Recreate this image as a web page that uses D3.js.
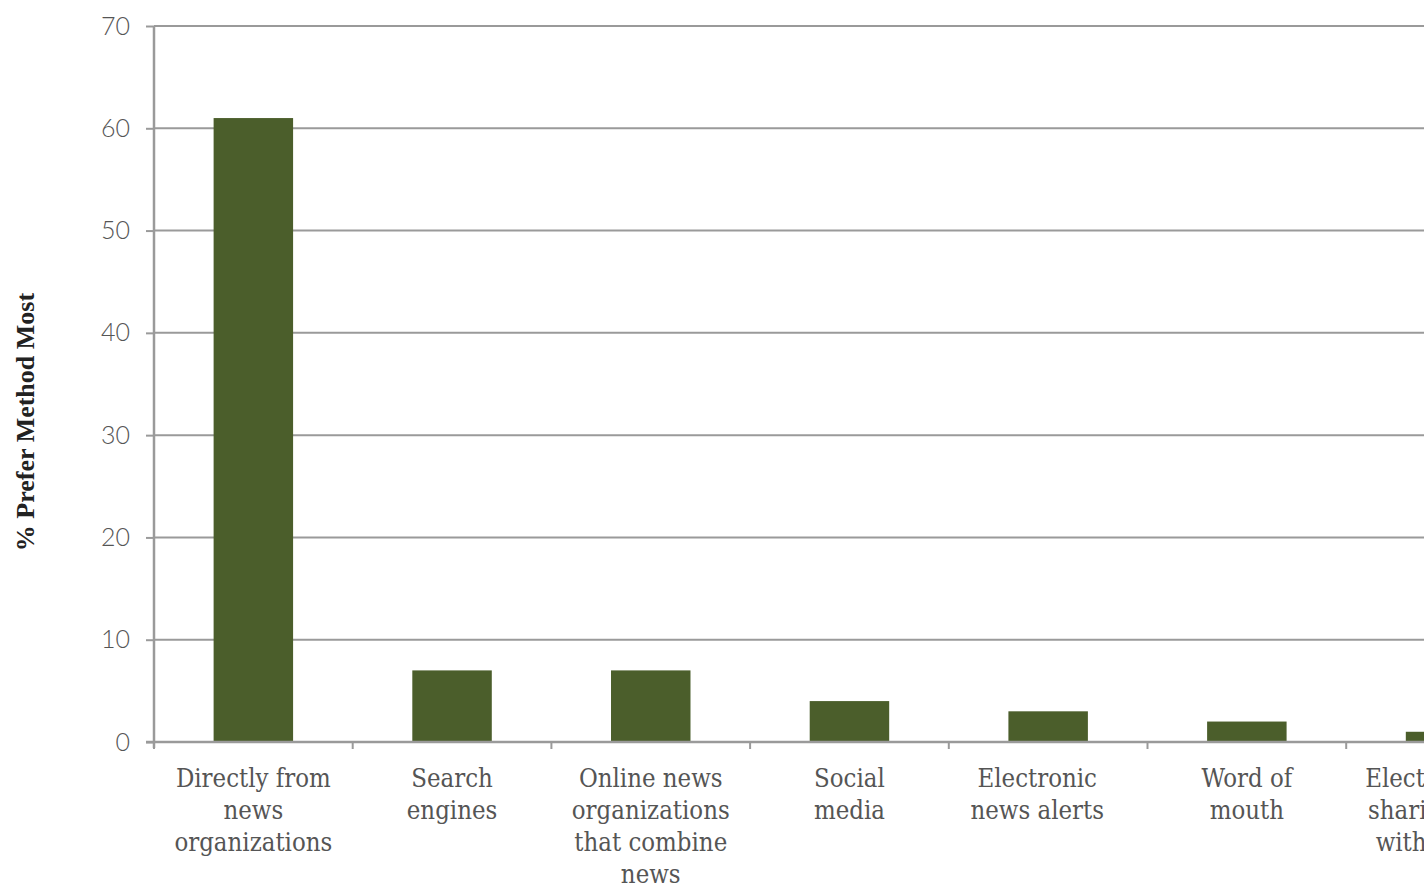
<!DOCTYPE html>
<html>
<head>
<meta charset="utf-8">
<script src="https://cdn.jsdelivr.net/npm/d3@7"></script>
<style>
  html, body { margin: 0; padding: 0; background: #fff; overflow: hidden; }
  svg { display: block; }
</style>
</head>
<body>
<svg id="chart"></svg>
<script>
// Preferred way of getting news online (% who prefer each method most)
const categories = [
  "Directly from news organizations",
  "Search engines",
  "Online news organizations that combine news",
  "Social media",
  "Electronic news alerts",
  "Word of mouth",
  "Electronically sharing news with friends"
];
const labelLines = [
  ["Directly from", "news", "organizations"],
  ["Search", "engines"],
  ["Online news", "organizations", "that combine", "news"],
  ["Social", "media"],
  ["Electronic\u00a0\u00a0\u00a0", "news alerts\u00a0\u00a0\u00a0"],
  ["Word of", "mouth"],
  ["Electronically", "sharing news", "with friends"]
];
const values = [61, 7, 7, 4, 3, 2, 1];
const yTicks = [0, 10, 20, 30, 40, 50, 60, 70];
const yTitle = "% Prefer Method Most";

const W = 1600, H = 886;
const margin = { left: 154, top: 26, bottom: 144 };
const step = 198.7;
const plotRight = margin.left + step * categories.length;

const svg = d3.select("#chart").attr("width", W).attr("height", H);

const x = d3.scaleBand().domain(categories).range([margin.left, plotRight]).padding(0);
const y = d3.scaleLinear().domain([0, 70]).range([H - margin.bottom, margin.top]);

const gridColor = "#9a9a9a";
const textColor = "#555";

// horizontal gridlines
svg.append("g")
  .selectAll("line")
  .data(yTicks.filter(d => d > 0))
  .join("line")
  .attr("x1", margin.left).attr("x2", plotRight)
  .attr("y1", d => y(d)).attr("y2", d => y(d))
  .attr("stroke", gridColor).attr("stroke-width", 2);

// bars
const bw = x.bandwidth();
svg.append("g")
  .selectAll("rect")
  .data(categories)
  .join("rect")
  .attr("x", c => x(c) + bw * 0.3)
  .attr("width", bw * 0.4)
  .attr("y", (c, i) => y(values[i]))
  .attr("height", (c, i) => y(0) - y(values[i]))
  .attr("fill", "#4b5e2b");

// y axis
const yAxis = svg.append("g")
  .attr("transform", `translate(${margin.left},0)`)
  .call(d3.axisLeft(y).tickValues(yTicks).tickSize(8).tickPadding(16));
yAxis.select(".domain").attr("stroke", gridColor).attr("stroke-width", 2.5)
  .attr("d", `M0,${y(70)}V${y(0) + 6}`);
yAxis.selectAll(".tick line").attr("stroke", gridColor).attr("stroke-width", 2);
yAxis.selectAll(".tick text")
  .attr("fill", textColor)
  .style("font-family", "Lato, 'Open Sans', 'DejaVu Sans', sans-serif")
  .style("font-weight", 300)
  .style("font-size", "25px");

// x axis baseline with ticks at band boundaries
const xAxis = svg.append("g").attr("transform", `translate(0,${y(0)})`);
xAxis.append("line")
  .attr("x1", margin.left - 8).attr("x2", plotRight)
  .attr("stroke", gridColor).attr("stroke-width", 2.5);
xAxis.selectAll("line.bt")
  .data(categories)
  .join("line")
  .attr("class", "bt")
  .attr("x1", c => x(c)).attr("x2", c => x(c))
  .attr("y1", 0).attr("y2", 7)
  .attr("stroke", gridColor).attr("stroke-width", 2);

// category labels
const lbl = xAxis.selectAll("text.cat")
  .data(categories)
  .join("text")
  .attr("class", "cat")
  .attr("text-anchor", "middle")
  .attr("fill", textColor)
  .style("font-family", "'DejaVu Serif Condensed', 'DejaVu Serif', serif")
  .style("font-stretch", "condensed")
  .style("font-size", "25.5px");
lbl.each(function(c, i) {
  const t = d3.select(this);
  labelLines[i].forEach((ln, j) => {
    t.append("tspan")
      .attr("x", x(c) + bw / 2)
      .attr("y", 45 + j * 32)
      .text(ln);
  });
});

// y axis title
svg.append("text")
  .attr("transform", `translate(34,${(y(0) + y(70)) / 2 + 38}) rotate(-90)`)
  .attr("text-anchor", "middle")
  .attr("fill", "#222")
  .style("font-family", "'Liberation Serif', serif")
  .style("font-weight", "bold")
  .style("font-size", "26px")
  .text(yTitle);
</script>
</body>
</html>
